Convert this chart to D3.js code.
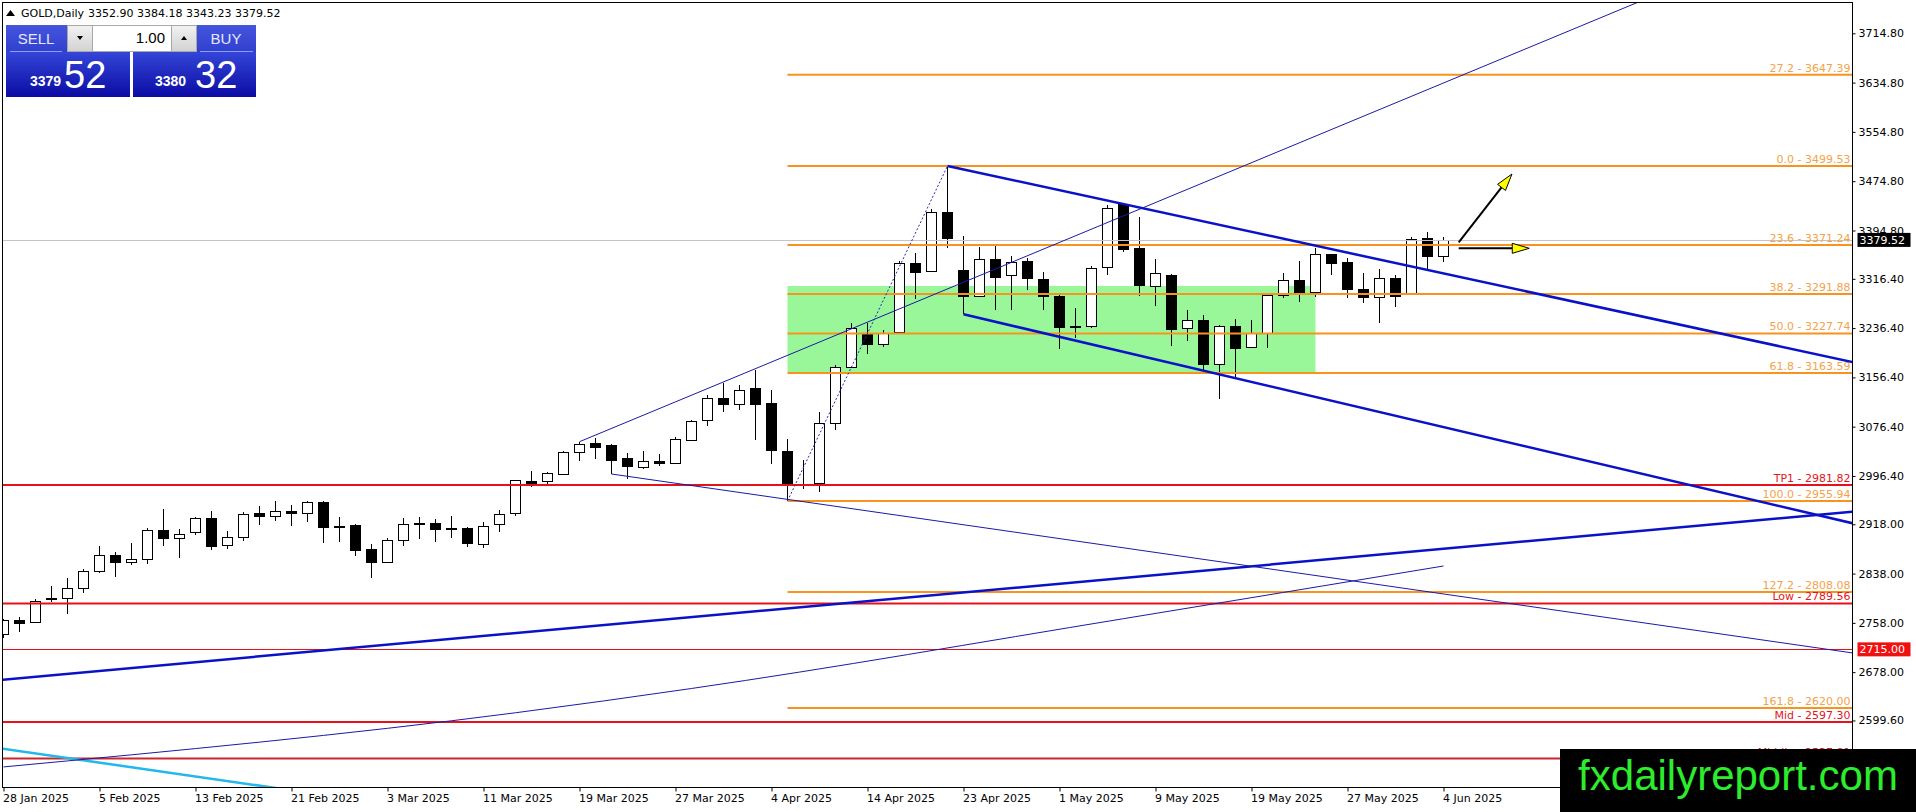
<!DOCTYPE html>
<html>
<head>
<meta charset="utf-8">
<script src="https://cdn.jsdelivr.net/npm/d3@7/dist/d3.min.js"></script>
<style>
  html, body { margin: 0; padding: 0; background: #fff; overflow: hidden; }
  svg { display: block; font-family: "DejaVu Sans", sans-serif; }
</style>
</head>
<body>
<div id="chart"></div>
<script>
//
// GOLD daily candles, Jan - Jun 2025
//
var dates = [
  "2025-01-28","2025-01-29","2025-01-30","2025-01-31",
  "2025-02-03","2025-02-04","2025-02-05","2025-02-06","2025-02-07","2025-02-10","2025-02-11","2025-02-12","2025-02-13","2025-02-14",
  "2025-02-17","2025-02-18","2025-02-19","2025-02-20","2025-02-21","2025-02-24","2025-02-25","2025-02-26","2025-02-27","2025-02-28",
  "2025-03-03","2025-03-04","2025-03-05","2025-03-06","2025-03-07","2025-03-10","2025-03-11","2025-03-12","2025-03-13","2025-03-14",
  "2025-03-17","2025-03-18","2025-03-19","2025-03-20","2025-03-21","2025-03-24","2025-03-25","2025-03-26","2025-03-27","2025-03-28","2025-03-31",
  "2025-04-01","2025-04-02","2025-04-03","2025-04-04","2025-04-07","2025-04-08","2025-04-09","2025-04-10","2025-04-11",
  "2025-04-14","2025-04-15","2025-04-16","2025-04-17","2025-04-21","2025-04-22","2025-04-23","2025-04-24","2025-04-25",
  "2025-04-28","2025-04-29","2025-04-30","2025-05-01","2025-05-02","2025-05-05","2025-05-06","2025-05-07","2025-05-08","2025-05-09",
  "2025-05-12","2025-05-13","2025-05-14","2025-05-15","2025-05-16","2025-05-19","2025-05-20","2025-05-21","2025-05-22","2025-05-23",
  "2025-05-26","2025-05-27","2025-05-28","2025-05-29","2025-05-30","2025-06-02","2025-06-03","2025-06-04"
];
var open = [2740,2763,2759,2796, 2798,2814,2842,2868,2857,2861,2909,2896,2905,2928, 2884,2898,2936,2932,2940,2936,2954,2916,2917,2878,
  2857,2893,2920,2920,2912,2912,2886,2918,2937,2988, 2989,3000,3035,3050,3047,3025,3011,3021,3018,3055,3087,
  3123,3113,3139,3115,3037,2984,2985,3082,3174, 3228,3211,3230,3342,3329,3424,3330,3289,3349,
  3322,3345,3316,3289,3240,3239,3336,3437,3367,3304, 3323,3237,3250,3178,3240,3206,3229,3290,3315,3295,
  3356,3343,3300,3287,3318,3294,3383,3352.90];
var high = [2765,2767,2797,2818, 2831,2845,2883,2873,2888,2912,2943,2910,2930,2940, 2907,2938,2948,2956,2949,2956,2956,2930,2918,2886,
  2895,2928,2930,2927,2931,2913,2922,2941,2990,3005, 3003,3037,3052,3058,3048,3034,3037,3032,3060,3088,3128,
  3148,3144,3168,3136,3056,3023,3101,3176,3245, 3245,3234,3345,3358,3429,3499.53,3386,3368,3370,
  3354,3350,3328,3292,3269,3337,3436,3438,3416,3348, 3324,3266,3258,3241,3251,3250,3291,3325,3346,3367,
  3357,3350,3326,3332,3323,3384,3393,3384.18];
var low = [2733,2743,2757,2792, 2772,2807,2839,2833,2852,2854,2882,2864,2900,2877, 2878,2891,2917,2924,2915,2921,2888,2890,2867,2831,
  2856,2882,2894,2890,2896,2881,2880,2906,2932,2978, 2981,2999,3021,3024,3000,2992,3007,3012,3017,3054,3077,
  3100,3104,3054,3016,2955.94,2975,2970,3071,3173, 3195,3205,3228,3283,3327,3367,3259,3287,3265,
  3266,3299,3266,3203,3220,3237,3322,3360,3288,3273, 3207,3215,3169,3121,3155,3204,3204,3285,3278,3287,
  3323,3286,3277,3244,3270,3291,3333,3343.23];
var close = [2763,2758,2794,2799, 2814,2842,2868,2856,2861,2909,2896,2903,2928,2882, 2898,2934,2932,2939,2936,2954,2914,2914,2877,2857,
  2893,2918,2918,2911,2910,2888,2916,2934,2990,2985, 3001,3035,3048,3044,3023,3012,3020,3018,3056,3086,3123,
  3114,3136,3114,3038,2985,2982,3082,3174,3236, 3211,3229,3342,3327,3424,3382,3289,3349,3319,
  3344,3317,3289,3238,3238,3334,3432,3365,3306,3325, 3235,3250,3178,3240,3204,3228,3290,3315,3295,3357,
  3342,3300,3287,3318,3288,3381,3353,3379.52];

var priceTicks = [3714.80,3634.80,3554.80,3474.80,3394.80,3316.40,3236.40,3156.40,3076.40,2996.40,2918.00,2838.00,2758.00,2678.00,2599.60];

// fibonacci drawn from the 7 Apr low to the 22 Apr high
var fibStart = 49;
var fibRatios = ["27.2","0.0","23.6","38.2","50.0","61.8","100.0","127.2","161.8"];
var fibPrices = [3647.39,3499.53,3371.24,3291.88,3227.74,3163.59,2955.94,2808.08,2620.00];

var levelNames = ["TP1","Low","Mid","Middle"];
var levelPrices = [2981.82,2789.56,2597.30,2537.81];
var alertPrice = 2715.00;
var lastPrice = 3379.52;
var quote = [3352.90,3384.18,3343.23,3379.52];

// zone: bar range and price range
var zoneBars = [49, 82];
var zonePrices = [3304.7, 3163.59];

// trend lines as [bar, price] anchors
var chanUpper = [[59, 3499.53], [90, 3325.1]];
var chanLower = [[60, 3258.8], [90, 3075.7]];
var riseUpper = [[36, 3052.0], [90, 3634.2]];
var riseLower = [[38, 2999.6], [90, 2804.9]];
var longRise = [[0, 2665.9], [90, 2878.2]];
var cyanLine = [[0, 2553.6], [16, 2493.8]];
var fibBase = [[49, 2955.94], [59, 3499.53]];
var slowCurve = [[0, 2524.2], [32, 2612.1], [43, 2651.5], [70, 2764.8], [90, 2850.3]];
var arrowUp = [[90.95, 3375.6], [94.28, 3486.5]];
var arrowFlat = [[90.95, 3365.9], [95.36, 3365.9]];

var W = 1916, H = 812;
var plotL = 2.5, plotT = 2.5, plotR = 1852.5, plotB = 787.5;

var parseDate = d3.timeParse("%Y-%m-%d");
var fmtDate = d3.timeFormat("%-d %b %Y");

var x = d3.scaleLinear().domain([0, dates.length - 1]).range([3.5, 3.5 + 16 * (dates.length - 1)]);
var y = d3.scaleLinear().domain([2490, 3764]).range([788, 3]);

var svg = d3.select("#chart").append("svg")
  .attr("width", W).attr("height", H);

var defs = svg.append("defs");
defs.append("clipPath").attr("id", "clip")
  .append("rect").attr("x", plotL + 0.5).attr("y", plotT + 0.5)
  .attr("width", plotR - plotL - 1).attr("height", plotB - plotT - 1);
var gBig = defs.append("linearGradient").attr("id", "gBig").attr("x1", 0).attr("y1", 0).attr("x2", 0).attr("y2", 1);
gBig.append("stop").attr("offset", "0%").attr("stop-color", "#3445d8");
gBig.append("stop").attr("offset", "100%").attr("stop-color", "#0b0ca3");
var gTop = defs.append("linearGradient").attr("id", "gTop").attr("x1", 0).attr("y1", 0).attr("x2", 0).attr("y2", 1);
gTop.append("stop").attr("offset", "0%").attr("stop-color", "#4655dc");
gTop.append("stop").attr("offset", "100%").attr("stop-color", "#3040cf");
var gBtn = defs.append("linearGradient").attr("id", "gBtn").attr("x1", 0).attr("y1", 0).attr("x2", 0).attr("y2", 1);
gBtn.append("stop").attr("offset", "0%").attr("stop-color", "#f2f2f2");
gBtn.append("stop").attr("offset", "100%").attr("stop-color", "#d2d2d2");

svg.append("rect").attr("width", W).attr("height", H).attr("fill", "#fff");

var chart = svg.append("g").attr("clip-path", "url(#clip)");

// green zone behind the candles
chart.append("rect")
  .attr("x", x(zoneBars[0])).attr("width", x(zoneBars[1]) - x(zoneBars[0]))
  .attr("y", y(zonePrices[0])).attr("height", y(zonePrices[1]) - y(zonePrices[0]))
  .attr("fill", "#99f799");

// candles
var bars = dates.map(function(d, i) {
  return { i: i, o: open[i], h: high[i], l: low[i], c: close[i] };
});
chart.selectAll("line.wick").data(bars).enter().append("line")
  .attr("class", "wick")
  .attr("x1", function(d) { return x(d.i); })
  .attr("x2", function(d) { return x(d.i); })
  .attr("y1", function(d) { return Math.round(y(d.h)); })
  .attr("y2", function(d) { return Math.round(y(d.l)); })
  .attr("stroke", "#000").attr("stroke-width", 1);
chart.selectAll("rect.body").data(bars).enter().append("rect")
  .attr("class", "body")
  .attr("x", function(d) { return x(d.i) - 5; })
  .attr("width", 10)
  .attr("y", function(d) { return Math.round(y(Math.max(d.o, d.c))) + 0.5; })
  .attr("height", function(d) {
    return Math.max(1, Math.round(y(Math.min(d.o, d.c))) - Math.round(y(Math.max(d.o, d.c))));
  })
  .attr("fill", function(d) { return d.c > d.o ? "#fff" : "#000"; })
  .attr("stroke", "#000").attr("stroke-width", 1);

// current price line
chart.append("line")
  .attr("x1", plotL).attr("x2", plotR)
  .attr("y1", Math.round(y(lastPrice)) + 0.5).attr("y2", Math.round(y(lastPrice)) + 0.5)
  .attr("stroke", "#c4c4c4").attr("stroke-width", 1);

// fibonacci levels
fibPrices.forEach(function(p, k) {
  var yy = y(p);
  chart.append("line")
    .attr("x1", x(fibStart)).attr("x2", plotR)
    .attr("y1", yy).attr("y2", yy)
    .attr("stroke", "#f7931e").attr("stroke-width", 2);
  chart.append("text")
    .attr("x", plotR - 2).attr("y", yy - 3)
    .attr("text-anchor", "end").attr("font-size", 11)
    .attr("fill", "#f3a24a")
    .text(fibRatios[k] + " - " + p.toFixed(2));
});

// red levels
levelPrices.forEach(function(p, k) {
  var yy = y(p);
  chart.append("line")
    .attr("x1", plotL).attr("x2", plotR)
    .attr("y1", yy).attr("y2", yy)
    .attr("stroke", k === 3 ? "#c9262e" : "#e5121b").attr("stroke-width", 2);
  chart.append("text")
    .attr("x", plotR - 2).attr("y", yy - 3)
    .attr("text-anchor", "end").attr("font-size", 11)
    .attr("fill", "#e3141c")
    .text(levelNames[k] + " - " + p.toFixed(2));
});
chart.append("line")
  .attr("x1", plotL).attr("x2", plotR)
  .attr("y1", Math.round(y(alertPrice)) + 0.5).attr("y2", Math.round(y(alertPrice)) + 0.5)
  .attr("stroke", "#e5121b").attr("stroke-width", 1);

// trend lines
function extend(pts, from, to) {
  var a = pts[0], b = pts[1];
  var s = (b[1] - a[1]) / (b[0] - a[0]);
  return [[from, a[1] + s * (from - a[0])], [to, a[1] + s * (to - a[0])]];
}
var seg = d3.line()
  .x(function(d) { return x(d[0]); })
  .y(function(d) { return y(d[1]); });

function trend(pts, color, width, dash) {
  chart.append("path")
    .attr("d", seg(pts))
    .attr("fill", "none")
    .attr("stroke", color)
    .attr("stroke-width", width)
    .attr("stroke-dasharray", dash || null);
}
trend(extend(longRise, -5, 130), "#0a12c8", 2.5);
trend(extend(cyanLine, -5, 130), "#22b9ea", 2.5);
trend(extend(riseLower, riseLower[0][0], 130), "#1a1aa6", 1);
trend(extend(riseUpper, riseUpper[0][0], 130), "#1a1aa6", 1);
trend(extend(chanUpper, chanUpper[0][0], 130), "#0a12c8", 2.5);
trend(extend(chanLower, chanLower[0][0], 130), "#0a12c8", 2.5);
trend(fibBase, "#2525b5", 1, "2,2");
chart.append("path")
  .attr("d", d3.line()
    .x(function(d) { return x(d[0]); })
    .y(function(d) { return y(d[1]); })
    .curve(d3.curveMonotoneX)(slowCurve))
  .attr("fill", "none").attr("stroke", "#1a1aa6").attr("stroke-width", 1);

// arrows
function arrow(pts) {
  var x1 = x(pts[0][0]), y1 = y(pts[0][1]), x2 = x(pts[1][0]), y2 = y(pts[1][1]);
  var a = Math.atan2(y2 - y1, x2 - x1), len = 17, hw = 5;
  var bx = x2 - len * Math.cos(a), by = y2 - len * Math.sin(a);
  chart.append("line")
    .attr("x1", x1).attr("y1", y1).attr("x2", bx).attr("y2", by)
    .attr("stroke", "#000").attr("stroke-width", 2);
  chart.append("path")
    .attr("d", "M" + x2 + "," + y2 +
      "L" + (bx + hw * Math.sin(a)) + "," + (by - hw * Math.cos(a)) +
      "L" + (bx - hw * Math.sin(a)) + "," + (by + hw * Math.cos(a)) + "Z")
    .attr("fill", "#ffff00").attr("stroke", "#000").attr("stroke-width", 1);
}
arrow(arrowUp);
arrow(arrowFlat);

// frame
svg.append("rect")
  .attr("x", plotL).attr("y", plotT)
  .attr("width", plotR - plotL).attr("height", plotB - plotT)
  .attr("fill", "none").attr("stroke", "#000").attr("stroke-width", 1);

// price axis
var yAxis = svg.append("g")
  .attr("transform", "translate(" + plotR + ",0)")
  .call(d3.axisRight(y).tickValues(priceTicks).tickSize(3).tickPadding(3)
    .tickFormat(d3.format(".2f")));
yAxis.select(".domain").remove();
yAxis.selectAll("text").attr("font-size", 11).attr("fill", "#000")
  .attr("font-family", "DejaVu Sans");
yAxis.selectAll("line").attr("stroke", "#000");

// date axis
var dateTicks = d3.range(0, dates.length, 6);
var xAxis = svg.append("g")
  .attr("transform", "translate(0," + plotB + ")")
  .call(d3.axisBottom(x).tickValues(dateTicks).tickSize(4).tickPadding(3)
    .tickFormat(function(i) { return fmtDate(parseDate(dates[i])); }));
xAxis.select(".domain").remove();
xAxis.selectAll("text").attr("font-size", 11).attr("fill", "#000")
  .attr("text-anchor", "start").attr("dx", -1)
  .attr("font-family", "DejaVu Sans");
xAxis.selectAll("line").attr("stroke", "#000");

// price boxes on the axis
function priceBox(p, bg) {
  var yy = y(p);
  svg.append("rect")
    .attr("x", plotR + 5).attr("y", yy - 7)
    .attr("width", 53).attr("height", 14)
    .attr("fill", bg);
  svg.append("text")
    .attr("x", plotR + 7).attr("y", yy + 4)
    .attr("font-size", 11).attr("fill", "#fff")
    .text(p.toFixed(2));
}
priceBox(lastPrice, "#000");
priceBox(alertPrice, "#f01010");

// header
svg.append("path").attr("d", "M6,16 L10.5,10 L15,16 Z").attr("fill", "#000");
svg.append("text").attr("x", 21).attr("y", 17).attr("font-size", 11).attr("fill", "#000")
  .text("GOLD,Daily");
svg.append("text").attr("x", 88).attr("y", 17).attr("font-size", 11).attr("fill", "#000")
  .text(quote.map(function(v) { return v.toFixed(2); }).join(" "));

// one-click trading panel
var panel = svg.append("g").attr("font-family", "Liberation Sans, Arial, sans-serif");
panel.append("rect").attr("x", 6).attr("y", 25).attr("width", 61).attr("height", 27).attr("fill", "url(#gTop)");
panel.append("rect").attr("x", 197).attr("y", 25).attr("width", 59).attr("height", 27).attr("fill", "url(#gTop)");
panel.append("rect").attr("x", 6).attr("y", 52).attr("width", 124).attr("height", 45).attr("fill", "url(#gBig)");
panel.append("rect").attr("x", 133).attr("y", 52).attr("width", 123).attr("height", 45).attr("fill", "url(#gBig)");
panel.append("line").attr("x1", 10).attr("x2", 62).attr("y1", 51.5).attr("y2", 51.5).attr("stroke", "#8f9df0");
panel.append("line").attr("x1", 200).attr("x2", 253).attr("y1", 51.5).attr("y2", 51.5).attr("stroke", "#8f9df0");
panel.append("rect").attr("x", 67.5).attr("y", 25.5).attr("width", 129).attr("height", 26)
  .attr("fill", "#fff").attr("stroke", "#a8a8a8");
panel.append("rect").attr("x", 67.5).attr("y", 25.5).attr("width", 25).attr("height", 26)
  .attr("fill", "url(#gBtn)").attr("stroke", "#a8a8a8");
panel.append("rect").attr("x", 171.5).attr("y", 25.5).attr("width", 25).attr("height", 26)
  .attr("fill", "url(#gBtn)").attr("stroke", "#a8a8a8");
panel.append("path").attr("d", "M77,36 L83,36 L80,40 Z").attr("fill", "#000");
panel.append("path").attr("d", "M181,40 L187,40 L184,36 Z").attr("fill", "#000");
panel.append("text").attr("x", 165).attr("y", 43).attr("text-anchor", "end")
  .attr("font-size", 15).attr("fill", "#000").text("1.00");
panel.append("text").attr("x", 36).attr("y", 44).attr("text-anchor", "middle")
  .attr("font-size", 15).attr("fill", "#e4e8ff").text("SELL");
panel.append("text").attr("x", 226).attr("y", 44).attr("text-anchor", "middle")
  .attr("font-size", 15).attr("fill", "#e4e8ff").text("BUY");
var bid = lastPrice.toFixed(2).split(".");
var ask = (lastPrice + 0.80).toFixed(2).split(".");
panel.append("text").attr("x", 30).attr("y", 86).attr("font-size", 14).attr("font-weight", "bold")
  .attr("fill", "#fff").text(bid[0]);
panel.append("text").attr("x", 64).attr("y", 88).attr("font-size", 38)
  .attr("fill", "#fff").text(bid[1]);
panel.append("text").attr("x", 155).attr("y", 86).attr("font-size", 14).attr("font-weight", "bold")
  .attr("fill", "#fff").text(ask[0]);
panel.append("text").attr("x", 195).attr("y", 88).attr("font-size", 38)
  .attr("fill", "#fff").text(ask[1]);

// watermark (covers most of the lowest level label, as in the source)
svg.append("rect").attr("x", 1560).attr("y", 749).attr("width", W - 1560).attr("height", H - 749)
  .attr("fill", "#000");
svg.append("text").attr("x", 1738).attr("y", 790)
  .attr("text-anchor", "middle")
  .attr("font-family", "Liberation Sans, Arial, sans-serif")
  .attr("font-size", 42).attr("fill", "#2dec2d")
  .text("fxdailyreport.com");
</script>
</body>
</html>
